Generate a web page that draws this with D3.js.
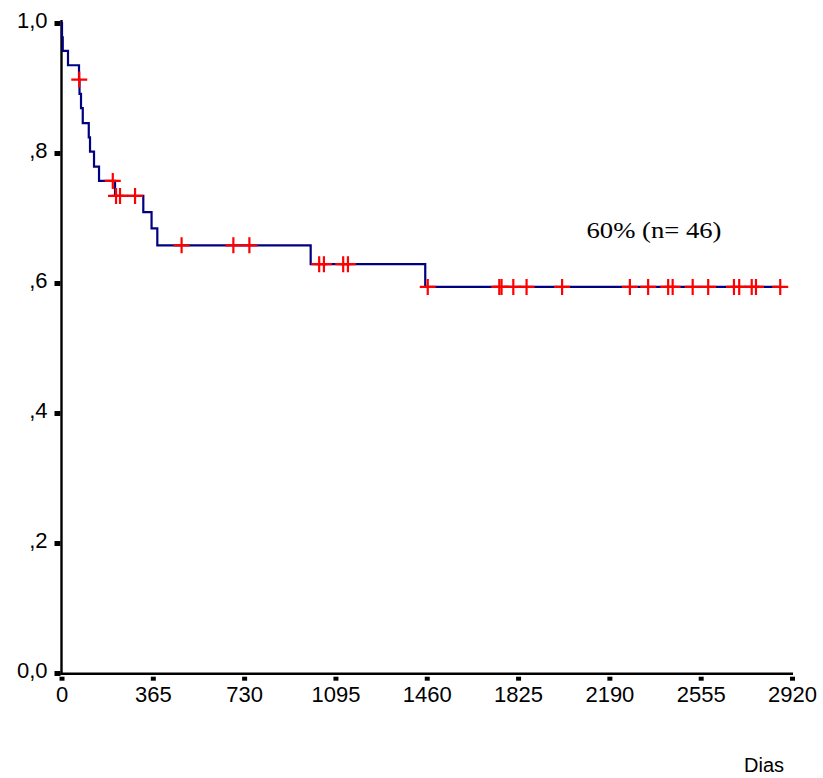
<!DOCTYPE html>
<meta charset="utf-8">
<style>
body { margin: 0; background: #fff; }
svg { display: block; }
.axis text { font-family: "Liberation Sans", Arial, sans-serif; font-size: 22px; fill: #000; }
.axis path.domain { stroke: #000; stroke-width: 2.4px; }
.axis line { stroke: #000; stroke-width: 5px; }
.curve { fill: none; stroke: #000080; stroke-width: 2.2px; }
.censor { fill: none; stroke: #ff0000; stroke-width: 2.2px; }
</style>
<svg width="823" height="778"></svg>
<script src="https://d3js.org/d3.v7.min.js"></script>
<script>

// death times (days) and survival after each step
var stepDays = [0, 2, 5, 26, 70, 72, 78, 85, 109, 114, 130, 150, 214, 327, 360, 383, 996, 1454];
var stepSurv = [1.0, 0.978, 0.957, 0.935, 0.913, 0.891, 0.869, 0.846, 0.824, 0.802, 0.779, 0.757, 0.734, 0.709, 0.684, 0.658, 0.629, 0.594];

// censored observations (days)
var censorDays = [71, 205, 218, 234, 294, 480, 687, 751, 1030, 1049, 1126, 1145,
  1464, 1750, 1759, 1806, 1859, 2001, 2272, 2345, 2425, 2443, 2523, 2585,
  2688, 2709, 2759, 2776, 2873];

var xTicks = [0, 365, 730, 1095, 1460, 1825, 2190, 2555, 2920];
var yTicks = [0, 0.2, 0.4, 0.6, 0.8, 1.0];
var yLabels = ["0,0", ",2", ",4", ",6", ",8", "1,0"];
var note = "60% (n= 46)";
var xTitle = "Dias";

var svg = d3.select("svg");

var x = d3.scaleLinear().domain([0, 2920]).range([61.5, 792]);
var y = d3.scaleLinear().domain([0, 1]).range([673, 23]);

// y axis
var yAxis = svg.append("g")
    .attr("class", "axis")
    .attr("transform", "translate(" + x(0) + ",0)")
    .call(d3.axisLeft(y)
      .tickValues(yTicks)
      .tickSizeOuter(0)
      .tickSize(6)
      .tickPadding(8)
      .tickFormat(function(d, i) { return yLabels[i]; }));
yAxis.selectAll(".tick line").attr("x1", -1).attr("x2", -7);
yAxis.selectAll(".tick text").attr("dy", "0.2em");
yAxis.select(".domain").attr("d", "M0,20V675");

// x axis
var xAxis = svg.append("g")
    .attr("class", "axis")
    .attr("transform", "translate(0," + (y(0) + 0.7) + ")")
    .call(d3.axisBottom(x)
      .tickValues(xTicks)
      .tickSizeOuter(0)
      .tickSize(7)
      .tickPadding(6)
      .tickFormat(d3.format("d")));
xAxis.selectAll(".tick line").attr("y1", 3).attr("y2", 7).attr("stroke-width", 5.5);
xAxis.select(".domain").attr("d", "M" + (x(0) - 1) + ",0H" + (x(2920) + 1));

// survival step curve
var pts = stepDays.map(function(d, i) { return [d, stepSurv[i]]; });
pts.push([censorDays[censorDays.length - 1], stepSurv[stepSurv.length - 1]]);

var line = d3.line()
    .x(function(d) { return x(d[0]); })
    .y(function(d) { return y(d[1]); })
    .curve(d3.curveStepAfter);

svg.append("path")
    .attr("class", "curve")
    .attr("d", line(pts));

function survAt(t) {
  var s = stepSurv[0];
  for (var i = 0; i < stepDays.length; i++) {
    if (stepDays[i] <= t) s = stepSurv[i];
  }
  return s;
}

svg.append("g")
  .selectAll("path")
  .data(censorDays)
  .enter().append("path")
    .attr("class", "censor")
    .attr("transform", function(d) { return "translate(" + x(d) + "," + y(survAt(d)) + ")"; })
    .attr("d", "M-8,0H8M0,-8V8");

svg.append("text")
    .attr("x", 586.5)
    .attr("y", 238)
    .attr("textLength", 135)
    .attr("lengthAdjust", "spacingAndGlyphs")
    .style("font-family", "'Liberation Serif', 'Times New Roman', serif")
    .style("font-size", "23px")
    .text(note);

svg.append("text")
    .attr("x", 744)
    .attr("y", 771.5)
    .style("font-family", "'Liberation Sans', Arial, sans-serif")
    .style("font-size", "20px")
    .text(xTitle);

</script>
